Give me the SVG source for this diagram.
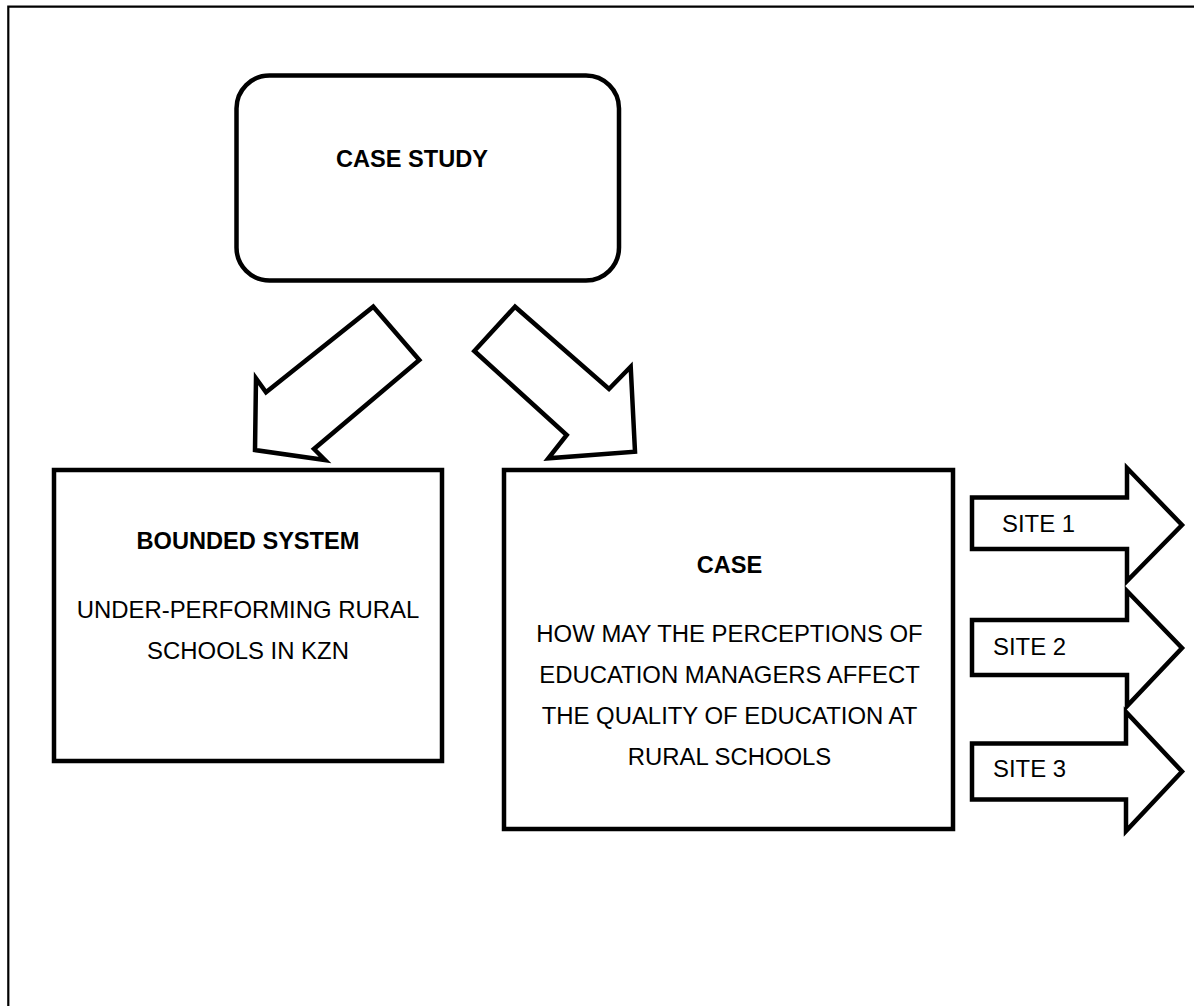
<svg xmlns="http://www.w3.org/2000/svg" width="1194" height="1006" viewBox="0 0 1194 1006">
<style>
.frame{fill:none;stroke:#000;stroke-width:2.2}
.box{fill:#fff;stroke:#000;stroke-width:4.5}
.arr{fill:#fff;stroke:#000;stroke-width:4.5;stroke-linejoin:miter}
text{font-family:"Liberation Sans",Arial,sans-serif;font-size:23.9px;fill:#000}
.b{font-weight:bold;font-size:23.6px}
.c{text-anchor:middle}
</style>
<rect width="1194" height="1006" fill="#fff"/>
<path class="frame" d="M8.3,1006 V6.7 H1194"/>
<g id="connectors">
<polygon class="arr" points="373.3,306.7 419.3,360 314,449 325,460 255,450 256,378.3 266,392.3"/>
<polygon class="arr" points="515,306.7 474.3,351 566.7,435 548.3,458.3 635,451.7 630.7,366.7 609,389"/>
</g>
<g id="case-study">
<rect class="box" x="236.5" y="75.5" width="382.5" height="205" rx="33" ry="33"/>
<text class="b c" x="412" y="167">CASE STUDY</text>
</g>
<g id="bounded-system">
<rect class="box" x="54" y="470" width="388" height="291"/>
<text class="b c" x="248" y="549">BOUNDED SYSTEM</text>
<text class="c" x="248" y="617.5">UNDER-PERFORMING RURAL</text>
<text class="c" x="248" y="659">SCHOOLS IN KZN</text>
</g>
<g id="case">
<rect class="box" x="504" y="470" width="449" height="359"/>
<text class="b c" x="729.5" y="573">CASE</text>
<text class="c" x="729.5" y="641.5">HOW MAY THE PERCEPTIONS OF</text>
<text class="c" x="729.5" y="683">EDUCATION MANAGERS AFFECT</text>
<text class="c" x="729.5" y="724">THE QUALITY OF EDUCATION AT</text>
<text class="c" x="729.5" y="765">RURAL SCHOOLS</text>
</g>
<g id="site-1">
<polygon class="arr" points="972,497.5 1127,497.5 1127,468 1182,525 1127,581 1127,549 972,549"/>
<text x="1002" y="531.5">SITE 1</text>
</g>
<g id="site-2">
<polygon class="arr" points="972,620 1127,620 1127,591 1182,648 1127,706 1127,675 972,675"/>
<text x="993" y="655">SITE 2</text>
</g>
<g id="site-3">
<polygon class="arr" points="972,743.5 1126,743.5 1126,712 1182,771.5 1126,831 1126,799.5 972,799.5"/>
<text x="993" y="777">SITE 3</text>
</g>
</svg>
